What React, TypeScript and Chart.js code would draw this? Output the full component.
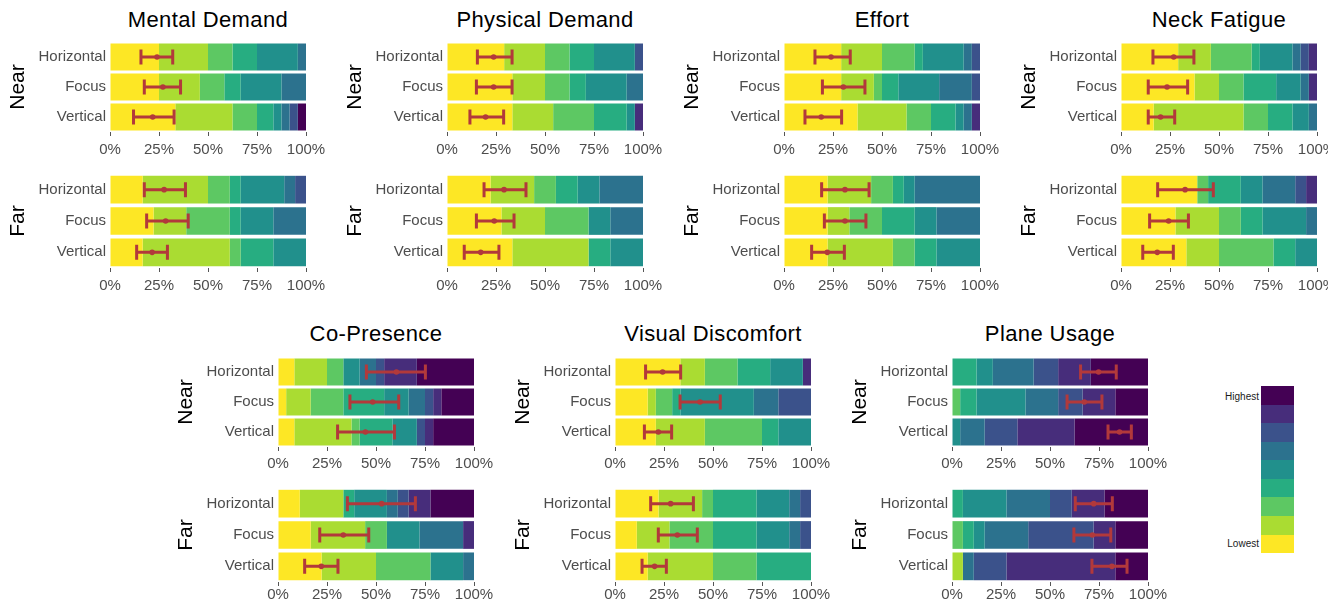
import React, { useEffect, useRef } from 'react';
import { Chart, registerables } from 'chart.js';

Chart.register(...registerables);
Chart.defaults.font.family = "'Liberation Sans', Arial, Helvetica, sans-serif";

// ---------- data ----------
const LEVEL_COLORS = ['#FDE725', '#AADC32', '#5DC863', '#27AD81', '#21908C', '#2C728E', '#3B528B', '#472D7B', '#440154'];
const CONDITIONS = ['Horizontal', 'Focus', 'Vertical'];
const X_TICKS = [0, 25, 50, 75, 100];
const LEGEND_LABELS = ['Highest', 'Lowest'];

// response counts per rating level (lowest -> highest); rows: Horizontal, Focus, Vertical
const mentalNear = [[6, 6, 3, 3, 5, 1, 0, 0, 0], [6, 5, 3, 2, 5, 3, 0, 0, 0], [8, 7, 3, 2, 1, 1, 1, 0, 1]];
const mentalFar = [[3, 6, 2, 1, 4, 1, 1, 0, 0], [4, 3, 4, 1, 3, 3, 0, 0, 0], [3, 8, 1, 3, 3, 0, 0, 0, 0]];
const physicalNear = [[7, 5, 3, 3, 5, 0, 1, 0, 0], [8, 4, 3, 2, 5, 2, 0, 0, 0], [8, 5, 5, 4, 1, 0, 0, 1, 0]];
const physicalFar = [[4, 4, 2, 2, 2, 4, 0, 0, 0], [5, 4, 4, 0, 2, 3, 0, 0, 0], [6, 7, 0, 2, 3, 0, 0, 0, 0]];
const effortNear = [[7, 5, 4, 1, 5, 1, 1, 0, 0], [7, 4, 1, 2, 5, 4, 1, 0, 0], [9, 6, 3, 3, 1, 1, 0, 1, 0]];
const effortFar = [[4, 4, 2, 1, 1, 6, 0, 0, 0], [4, 2, 3, 3, 2, 4, 0, 0, 0], [4, 6, 2, 2, 4, 0, 0, 0, 0]];
const neckNear = [[7, 4, 5, 1, 4, 1, 1, 1, 0], [9, 3, 3, 4, 3, 1, 0, 1, 0], [4, 11, 3, 3, 2, 1, 0, 0, 0]];
const neckFar = [[7, 0, 1, 3, 2, 3, 1, 1, 0], [5, 4, 2, 2, 4, 1, 0, 0, 0], [6, 3, 5, 2, 2, 0, 0, 0, 0]];
const copresenceNear = [[2, 4, 2, 0, 2, 2, 1, 4, 7], [1, 3, 4, 5, 3, 2, 1, 1, 4], [2, 7, 1, 4, 3, 0, 1, 1, 5]];
const copresenceFar = [[2, 4, 0, 1, 3, 1, 1, 2, 4], [3, 5, 2, 0, 3, 4, 0, 1, 0], [4, 5, 5, 0, 3, 1, 0, 0, 0]];
const visualNear = [[8, 3, 4, 4, 4, 0, 0, 1, 0], [4, 1, 2, 1, 9, 3, 4, 0, 0], [5, 6, 7, 2, 4, 0, 0, 0, 0]];
const visualFar = [[4, 4, 1, 4, 3, 1, 1, 0, 0], [2, 3, 4, 4, 3, 1, 1, 0, 0], [3, 6, 4, 5, 0, 0, 0, 0, 0]];
const planeNear = [[0, 0, 0, 3, 2, 5, 3, 4, 7], [0, 0, 1, 2, 6, 4, 3, 4, 4], [0, 0, 0, 0, 1, 3, 4, 7, 9]];
const planeFar = [[0, 0, 0, 1, 4, 4, 2, 3, 4], [0, 0, 1, 1, 1, 4, 6, 2, 3], [0, 1, 0, 0, 0, 1, 3, 10, 3]];

// error bars [low, mean, high] in percent; rows: Horizontal, Focus, Vertical
const mentalNearErr = [[15.8, 24, 32], [17.5, 27, 36], [12, 21.8, 32.7]];
const mentalFarErr = [[17.5, 27.6, 38.5], [18.7, 28.4, 39.9], [13.6, 21.5, 29.3]];
const physicalNearErr = [[15.5, 23.8, 33.2], [15, 23.8, 33.2], [11.7, 19.7, 28.9]];
const physicalFarErr = [[18.9, 29.1, 40.3], [15, 24.1, 34.2], [8.8, 17.2, 26.5]];
const effortNearErr = [[15.8, 24, 33.8], [19.6, 30.3, 41.3], [10.7, 19, 29.4]];
const effortFarErr = [[19.2, 31.1, 43.4], [20.6, 31.1, 41.8], [14.1, 22.1, 30.8]];
const neckNearErr = [[16.3, 26.9, 37.2], [13.9, 23.5, 34], [13.9, 20.2, 27.4]];
const neckFarErr = [[18.7, 32.7, 47.1], [14.6, 24.3, 34.4], [11.1, 18.5, 26.7]];
const copresenceNearErr = [[45.1, 60.4, 75.2], [36.7, 48.3, 61.6], [30.4, 44.6, 59.4]];
const copresenceFarErr = [[35.4, 52.9, 70.1], [21.3, 33.3, 46.3], [13.6, 22.1, 30.6]];
const visualNearErr = [[15.6, 24.3, 33.5], [33.2, 43.4, 53.7], [15, 22.1, 28.9]];
const visualFarErr = [[18.2, 28.4, 40], [22.1, 31.8, 42], [13.8, 20.2, 26.2]];
const planeNearErr = [[65.6, 74.8, 83.8], [58.7, 67.5, 76.5], [79.6, 85.5, 91.5]];
const planeFarErr = [[62.9, 72.3, 81.8], [62.2, 71.6, 81], [71.4, 81.6, 89.3]];

const PANELS = [
  { title: 'Mental Demand', near: mentalNear, nearErr: mentalNearErr, far: mentalFar, farErr: mentalFarErr },
  { title: 'Physical Demand', near: physicalNear, nearErr: physicalNearErr, far: physicalFar, farErr: physicalFarErr },
  { title: 'Effort', near: effortNear, nearErr: effortNearErr, far: effortFar, farErr: effortFarErr },
  { title: 'Neck Fatigue', near: neckNear, nearErr: neckNearErr, far: neckFar, farErr: neckFarErr },
  { title: 'Co-Presence', near: copresenceNear, nearErr: copresenceNearErr, far: copresenceFar, farErr: copresenceFarErr },
  { title: 'Visual Discomfort', near: visualNear, nearErr: visualNearErr, far: visualFar, farErr: visualFarErr },
  { title: 'Plane Usage', near: planeNear, nearErr: planeNearErr, far: planeFar, farErr: planeFarErr },
];

// ---------- layout ----------
const PLOT_W = 196;
const AXIS_W = 104;
const PANEL_POS = [
  { x: 110, row: 0, padRight: 24 },
  { x: 447, row: 0, padRight: 24 },
  { x: 784, row: 0, padRight: 24 },
  { x: 1121, row: 0, padRight: 11 },
  { x: 278, row: 1, padRight: 24 },
  { x: 615, row: 1, padRight: 24 },
  { x: 952, row: 1, padRight: 24 },
];
const ROWS = [
  {
    titleTop: 8.7,
    near: { top: 42, h: 90, tickPad: 5, barPct: 0.9, axisH: 30 },
    far: { top: 174, h: 94, tickPad: 5, barPct: 0.885, axisH: 30 },
  },
  {
    titleTop: 322.9,
    near: { top: 357, h: 90, tickPad: 4, barPct: 0.9, axisH: 30 },
    far: { top: 488, h: 94, tickPad: 0, barPct: 0.885, axisH: 23 },
  },
];

const ERR_COLOR = '#B2393B';
const TEXT_GRAY = '#4D4D4D';

type SubProps = {
  counts: number[][];
  err: number[][];
  axisTitle: string;
  left: number;
  chartTop: number;
  chartH: number;
  tickPad: number;
  barPct: number;
  axisH: number;
  padRight: number;
};

function SubChart(p: SubProps) {
  const ref = useRef<HTMLCanvasElement>(null);
  const padTop = 2;
  const width = AXIS_W + PLOT_W + p.padRight;
  const height = padTop + p.chartH + p.axisH;

  useEffect(() => {
    const datasets = LEVEL_COLORS.map((color, li) => ({
      data: p.counts.map((row) => (row[li] / row.reduce((a, b) => a + b, 0)) * 100),
      backgroundColor: color,
      borderWidth: 0,
      categoryPercentage: 1,
      barPercentage: p.barPct,
    }));

    const errorPlugin = {
      id: 'errorBars',
      afterDatasetsDraw(chart: any) {
        const { ctx, scales } = chart;
        const xs = scales.x;
        const ys = scales.y;
        ctx.save();
        ctx.strokeStyle = ERR_COLOR;
        ctx.fillStyle = ERR_COLOR;
        ctx.lineWidth = 3;
        p.err.forEach(([lo, mean, hi], i) => {
          const cy = ys.getPixelForValue(i);
          const xl = xs.getPixelForValue(lo);
          const xm = xs.getPixelForValue(mean);
          const xh = xs.getPixelForValue(hi);
          ctx.beginPath();
          ctx.moveTo(xl, cy);
          ctx.lineTo(xh, cy);
          ctx.moveTo(xl, cy - 7.5);
          ctx.lineTo(xl, cy + 7.5);
          ctx.moveTo(xh, cy - 7.5);
          ctx.lineTo(xh, cy + 7.5);
          ctx.stroke();
          ctx.beginPath();
          ctx.arc(xm, cy, 2.8, 0, Math.PI * 2);
          ctx.fill();
        });
        ctx.restore();
      },
    };

    const chart = new Chart(ref.current as HTMLCanvasElement, {
      type: 'bar',
      data: { labels: CONDITIONS, datasets },
      options: {
        indexAxis: 'y',
        animation: false,
        responsive: false,
        maintainAspectRatio: false,
        devicePixelRatio: 1,
        layout: { padding: { top: padTop, right: p.padRight, left: 0, bottom: 0 } },
        plugins: {
          legend: { display: false },
          tooltip: { enabled: false },
        },
        scales: {
          x: {
            type: 'linear',
            stacked: true,
            min: 0,
            max: 100,
            afterBuildTicks: (s: any) => {
              s.ticks = X_TICKS.map((v) => ({ value: v }));
            },
            ticks: {
              callback: (v: any) => v + '%',
              font: { size: 15 },
              color: TEXT_GRAY,
              padding: p.tickPad,
              maxRotation: 0,
              autoSkip: false,
            },
            grid: { display: true, drawOnChartArea: false, drawTicks: true, tickLength: 4, color: '#555555' },
            border: { display: false },
            afterFit: (s: any) => {
              s.height = p.axisH;
              s.paddingLeft = 0;
              s.paddingRight = 0;
            },
          },
          y: {
            type: 'category',
            stacked: true,
            ticks: { font: { size: 15 }, color: TEXT_GRAY, padding: 4 },
            grid: { display: false, drawTicks: false },
            border: { display: false },
            title: { display: true, text: p.axisTitle, font: { size: 21 }, color: '#000000', padding: 0 },
            afterFit: (s: any) => {
              s.width = AXIS_W;
              s.paddingTop = 0;
              s.paddingBottom = 0;
            },
          },
        },
      } as any,
      plugins: [errorPlugin],
    });
    return () => chart.destroy();
  }, []);

  return (
    <canvas
      ref={ref}
      width={width}
      height={height}
      style={{ position: 'absolute', left: p.left - AXIS_W, top: p.chartTop - padTop, width, height }}
    />
  );
}

export default function App() {
  return (
    <div
      style={{
        position: 'absolute',
        left: 0,
        top: 0,
        width: 1341,
        height: 609,
        overflow: 'hidden',
        background: '#ffffff',
        fontFamily: "'Liberation Sans', Arial, Helvetica, sans-serif",
      }}
    >
      {PANELS.map((panel, i) => {
        const pos = PANEL_POS[i];
        const row = ROWS[pos.row];
        return (
          <React.Fragment key={panel.title}>
            <div
              style={{
                position: 'absolute',
                left: pos.x - 40,
                width: PLOT_W + 80,
                top: row.titleTop,
                textAlign: 'center',
                fontSize: 22,
                lineHeight: '22px',
                letterSpacing: '0.4px',
                color: '#000',
                whiteSpace: 'nowrap',
              }}
            >
              {panel.title}
            </div>
            <SubChart
              counts={panel.near}
              err={panel.nearErr}
              axisTitle="Near"
              left={pos.x}
              chartTop={row.near.top}
              chartH={row.near.h}
              tickPad={row.near.tickPad}
              barPct={row.near.barPct}
              axisH={row.near.axisH}
              padRight={pos.padRight}
            />
            <SubChart
              counts={panel.far}
              err={panel.farErr}
              axisTitle="Far"
              left={pos.x}
              chartTop={row.far.top}
              chartH={row.far.h}
              tickPad={row.far.tickPad}
              barPct={row.far.barPct}
              axisH={row.far.axisH}
              padRight={pos.padRight}
            />
          </React.Fragment>
        );
      })}

      {/* colour key */}
      <div
        style={{
          position: 'absolute',
          left: 1261,
          top: 386,
          width: 33,
          height: 167,
          display: 'flex',
          flexDirection: 'column',
        }}
      >
        {[...LEVEL_COLORS].reverse().map((c) => (
          <div key={c} style={{ flex: 1, background: c }} />
        ))}
      </div>
      <div
        style={{ position: 'absolute', left: 1200, width: 59, top: 390.5, textAlign: 'right', fontSize: 10, lineHeight: '12px', color: '#1A1A1A' }}
      >
        {LEGEND_LABELS[0]}
      </div>
      <div
        style={{ position: 'absolute', left: 1200, width: 59, top: 537.5, textAlign: 'right', fontSize: 10, lineHeight: '12px', color: '#1A1A1A' }}
      >
        {LEGEND_LABELS[1]}
      </div>
    </div>
  );
}
